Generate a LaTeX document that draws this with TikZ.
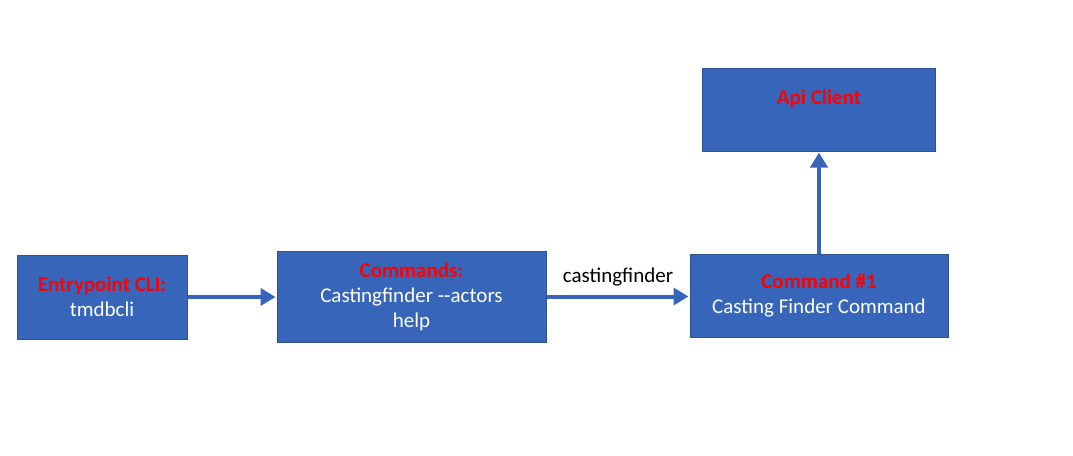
\documentclass[tikz,border=0pt]{standalone}
\usepackage{fontspec}
\setmainfont{Carlito}
\usetikzlibrary{arrows.meta}
\definecolor{boxblue}{RGB}{54,101,186}
\definecolor{boxedge}{RGB}{47,82,143}
\definecolor{headred}{RGB}{255,0,0}
\tikzset{
	box/.style={draw=boxedge, line width=1pt, fill=boxblue, text=white, align=center, inner sep=0pt, font=\fontsize{21}{25}\selectfont},
	flow/.style={draw=boxblue, line width=4pt, -{Triangle[width=17pt,length=15pt]}, shorten >=1pt}
}
\newcommand{\headline}[1]{\textcolor{headred}{\textbf{#1}}}
\begin{document}
\begin{tikzpicture}[x=1pt, y=-1pt]
				\useasboundingbox (0,0) rectangle (1073,455);
				
				\node[box, minimum width=170pt, minimum height=84pt] (entry) at (102,297) {\headline{Entrypoint CLI:}\\tmdbcli};
				\node[box, minimum width=269pt, minimum height=91pt] (cmds) at (411.5,296.5) {\headline{Commands:}\\Castingfinder -{}-actors\\help};
				\node[box, minimum width=258pt, minimum height=83pt] (cmd1) at (819,295.5) {\headline{Command \#1}\\Casting Finder Command};
				\node[box, minimum width=233pt, minimum height=83pt] (api) at (819,109.5) {\headline{Api Client}\\\mbox{}};
				
				\draw[flow] (entry.east) -- (entry.east -| cmds.west);
				\draw[flow] (cmds.east) -- node[above=8pt, inner sep=0pt, font=\fontsize{21}{25}\selectfont] {castingfinder} (cmds.east -| cmd1.west);
				\draw[flow] (cmd1.north) -- (api.south);
			\end{tikzpicture}
\end{document}
